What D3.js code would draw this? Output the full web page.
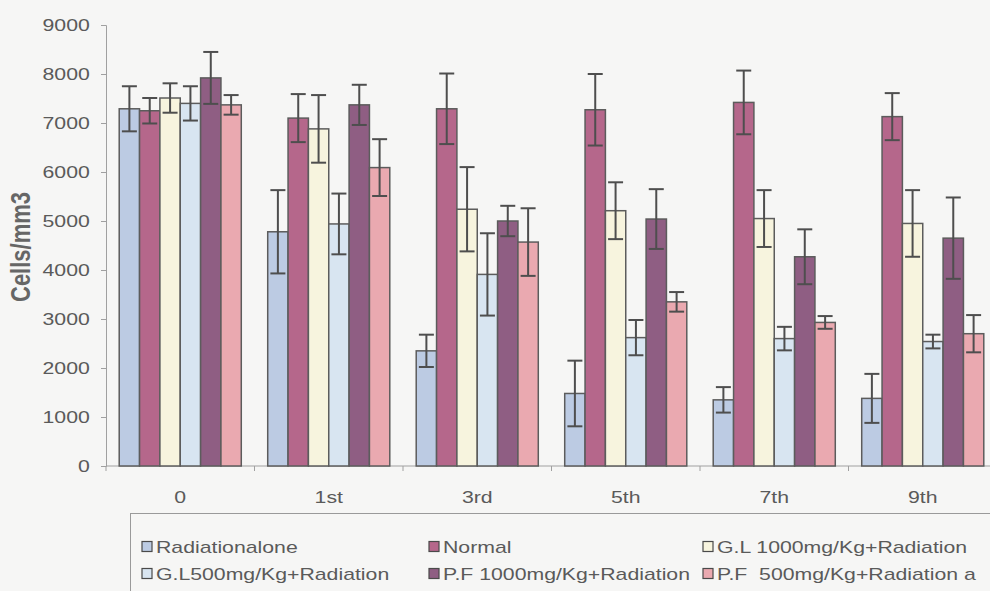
<!DOCTYPE html>
<html>
<head>
<meta charset="utf-8">
<script src="https://cdn.jsdelivr.net/npm/d3@7/dist/d3.min.js"></script>
<style>
  html, body { margin: 0; padding: 0; background: #f6f6f5; }
  svg { display: block; }
  text { font-family: "Liberation Sans", Arial, sans-serif; fill: #5a5a5a; white-space: pre; }
</style>
</head>
<body>
<svg id="chart" width="990" height="591"></svg>
<script>
// Days after exposure
const categories = ["0", "1st", "3rd", "5th", "7th", "9th"];

// Series names (legend order)
const seriesNames = [
  "Radiationalone",
  "Normal",
  "G.L 1000mg/Kg+Radiation",
  "G.L500mg/Kg+Radiation",
  "P.F 1000mg/Kg+Radiation",
  "P.F  500mg/Kg+Radiation a"
];

// Mean counts (cells/mm3)
const radiationAlone = [7290, 4780, 2350, 1480, 1350, 1380];
const normal         = [7250, 7100, 7290, 7270, 7420, 7130];
const gl1000         = [7510, 6880, 5240, 5210, 5050, 4950];
const gl500          = [7400, 4940, 3910, 2620, 2600, 2540];
const pf1000         = [7920, 7370, 5000, 5040, 4270, 4650];
const pf500          = [7370, 6090, 4570, 3350, 2930, 2700];

// Standard errors
const radiationAloneErr = [460, 850, 330, 670, 260, 500];
const normalErr         = [260, 490, 720, 730, 650, 480];
const gl1000Err         = [300, 690, 860, 580, 580, 680];
const gl500Err          = [350, 620, 840, 360, 240, 140];
const pf1000Err         = [530, 410, 310, 610, 560, 830];
const pf500Err          = [200, 580, 690, 200, 130, 380];

const yTicks = [0, 1000, 2000, 3000, 4000, 5000, 6000, 7000, 8000, 9000];

const values = [radiationAlone, normal, gl1000, gl500, pf1000, pf500];
const errors = [radiationAloneErr, normalErr, gl1000Err, gl500Err, pf1000Err, pf500Err];
const colors = ["#bccbe3", "#b5678b", "#f7f4de", "#d8e5f1", "#8f5e83", "#eaa9b0"];

const svg = d3.select("#chart");
const stretch = 1.25;  // horizontal text stretch
const plotLeft = 106, plotRight = 997, plotTop = 25, plotBottom = 466;

const x0 = d3.scaleBand().domain(categories).range([plotLeft, plotRight])
  .paddingInner(0.178).paddingOuter(0.089);
const x1 = d3.scaleBand().domain(d3.range(seriesNames.length)).range([0, x0.bandwidth()]);
const y = d3.scaleLinear().domain([0, 9000]).range([plotBottom, plotTop]);

// Y axis
const yAxis = svg.append("g")
  .attr("transform", `translate(${plotLeft},0)`)
  .call(d3.axisLeft(y).tickValues(yTicks).tickSize(5).tickPadding(8).tickFormat(d3.format("d")));
yAxis.select(".domain").attr("stroke", "#a0a0a0");
yAxis.selectAll(".tick line").attr("stroke", "#a0a0a0");
yAxis.selectAll(".tick text")
  .attr("font-size", 17)
  .attr("fill", "#5a5a5a")
  .attr("transform", `scale(${stretch},1)`);

// X axis line and boundary ticks
svg.append("line")
  .attr("x1", plotLeft).attr("x2", plotRight)
  .attr("y1", plotBottom).attr("y2", plotBottom)
  .attr("stroke", "#a0a0a0");
svg.selectAll(".xtick")
  .data(d3.range(categories.length + 1))
  .join("line")
  .attr("x1", i => plotLeft + i * x0.step())
  .attr("x2", i => plotLeft + i * x0.step())
  .attr("y1", plotBottom).attr("y2", plotBottom + 5)
  .attr("stroke", "#a0a0a0");
svg.selectAll(".xlabel")
  .data(categories)
  .join("text")
  .attr("transform", d => `translate(${x0(d) + x0.bandwidth() / 2},${plotBottom + 37}) scale(${stretch},1)`)
  .attr("text-anchor", "middle")
  .attr("font-size", 17)
  .text(d => d);

// Y axis title
svg.append("text")
  .attr("transform", `translate(30,247) scale(${stretch},1) rotate(-90)`)
  .attr("text-anchor", "middle")
  .attr("font-size", 22)
  .attr("font-weight", "bold")
  .style("fill", "#666")
  .text("Cells/mm3");

// Bars
const groups = svg.selectAll(".grp")
  .data(categories)
  .join("g")
  .attr("transform", d => `translate(${x0(d)},0)`);

groups.each(function (cat, ci) {
  const g = d3.select(this);
  const rows = seriesNames.map((s, si) => ({ si, v: values[si][ci], e: errors[si][ci] }));
  g.selectAll("rect")
    .data(rows)
    .join("rect")
    .attr("x", d => x1(d.si))
    .attr("width", x1.bandwidth())
    .attr("y", d => y(d.v))
    .attr("height", d => y(0) - y(d.v))
    .attr("fill", d => colors[d.si])
    .attr("stroke", "#5c5c5c")
    .attr("stroke-width", 1.5);

  const cap = 7.5;
  const eb = g.selectAll(".err")
    .data(rows)
    .join("g")
    .attr("stroke", "#4e4e4e")
    .attr("stroke-width", 2);
  eb.append("line")
    .attr("x1", d => x1(d.si) + x1.bandwidth() / 2)
    .attr("x2", d => x1(d.si) + x1.bandwidth() / 2)
    .attr("y1", d => y(d.v - d.e))
    .attr("y2", d => y(d.v + d.e));
  eb.append("line")
    .attr("x1", d => x1(d.si) + x1.bandwidth() / 2 - cap)
    .attr("x2", d => x1(d.si) + x1.bandwidth() / 2 + cap)
    .attr("y1", d => y(d.v + d.e))
    .attr("y2", d => y(d.v + d.e));
  eb.append("line")
    .attr("x1", d => x1(d.si) + x1.bandwidth() / 2 - cap)
    .attr("x2", d => x1(d.si) + x1.bandwidth() / 2 + cap)
    .attr("y1", d => y(d.v - d.e))
    .attr("y2", d => y(d.v - d.e));
});

// Legend
const legend = svg.append("g");
legend.append("rect")
  .attr("x", 130.5).attr("y", 513.5)
  .attr("width", 900).attr("height", 120)
  .attr("fill", "none")
  .attr("stroke", "#9a9a9a");
const colX = [142, 429, 703];
const rowY = [547, 574];
const items = legend.selectAll(".item")
  .data(seriesNames)
  .join("g")
  .attr("transform", (d, i) => `translate(${colX[i % 3]},${rowY[Math.floor(i / 3)]})`);
items.append("rect")
  .attr("x", 0).attr("y", -5.5)
  .attr("width", 10).attr("height", 10)
  .attr("fill", (d, i) => colors[i])
  .attr("stroke", "#4a4a4a")
  .attr("stroke-width", 1.2);
items.append("text")
  .attr("transform", `translate(14,6) scale(${stretch},1)`)
  .attr("font-size", 17)
  .text(d => d);
</script>
</body>
</html>
